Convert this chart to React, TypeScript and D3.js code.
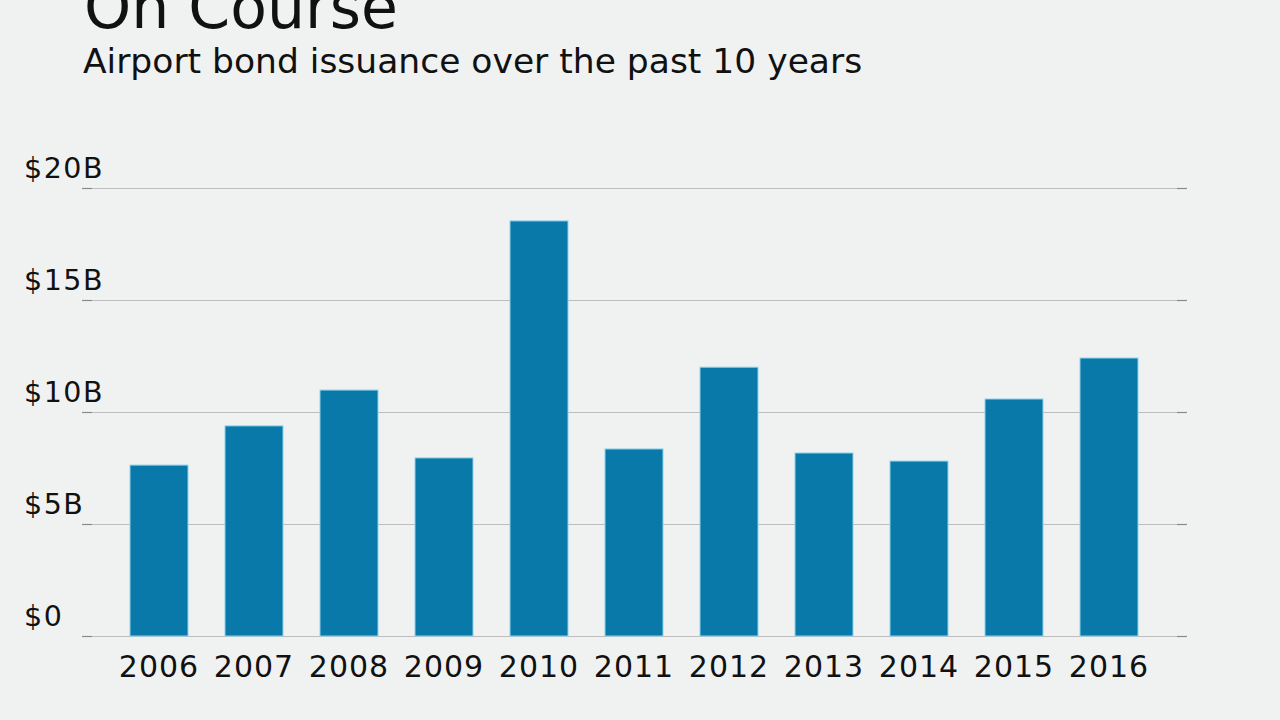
import React from "react";
import * as d3 from "d3";

const years = ["2006","2007","2008","2009","2010","2011","2012","2013","2014","2015","2016"];
const issuance = [7.63, 9.38, 10.98, 7.95, 18.53, 8.35, 12.0, 8.17, 7.81, 10.58, 12.41];
const yTicks = [0, 5, 10, 15, 20];
const yTickLabels = ["$0", "$5B", "$10B", "$15B", "$20B"];

const W = 1280, H = 720;
const FONT = "'DejaVu Sans', Verdana, sans-serif";

export default function App() {
  const x = d3.scaleBand<string>().domain(years).range([82.5, 1185.5]).paddingInner(37 / 95).paddingOuter(0.5);
  const y = d3.scaleLinear().domain([0, 20]).range([636, 188]);
  return (
    <svg width={W} height={H} style={{ position: "absolute", left: 0, top: 0, background: "#f0f1f1" }}>
      <rect x={0} y={0} width={W} height={H} fill="#f0f1f1" />
      <text x={84} y={28} fontFamily={FONT} fontSize={60} fill="#111">On Course</text>
      <text x={83} y={73} fontFamily={FONT} fontSize={34.5} fill="#111">Airport bond issuance over the past 10 years</text>
      {yTicks.map((t, i) => (
        <g key={t}>
          <line x1={82} x2={1187} y1={y(t) + 0.5} y2={y(t) + 0.5} stroke="#bdbdbd" strokeWidth={1.2} />
          <line x1={82} x2={92} y1={y(t) + 0.5} y2={y(t) + 0.5} stroke="#8a8a8a" strokeWidth={1.2} />
          <line x1={1177} x2={1187} y1={y(t) + 0.5} y2={y(t) + 0.5} stroke="#8a8a8a" strokeWidth={1.2} />
          <text x={24} y={y(t) - 10} fontFamily={FONT} fontSize={28.5} letterSpacing={1.5} fill="#111">{yTickLabels[i]}</text>
        </g>
      ))}
      {years.map((yr, i) => (
        <rect key={yr} x={x(yr)} y={y(issuance[i])} width={x.bandwidth()} height={y(0) - y(issuance[i])}
          fill="#0879a8" stroke="#8fd3ef" strokeWidth={1} />
      ))}
      {years.map((yr) => (
        <text key={yr} x={(x(yr) as number) + x.bandwidth() / 2} y={677} textAnchor="middle"
          fontFamily={FONT} fontSize={30} letterSpacing={1} fill="#111">{yr}</text>
      ))}
    </svg>
  );
}
